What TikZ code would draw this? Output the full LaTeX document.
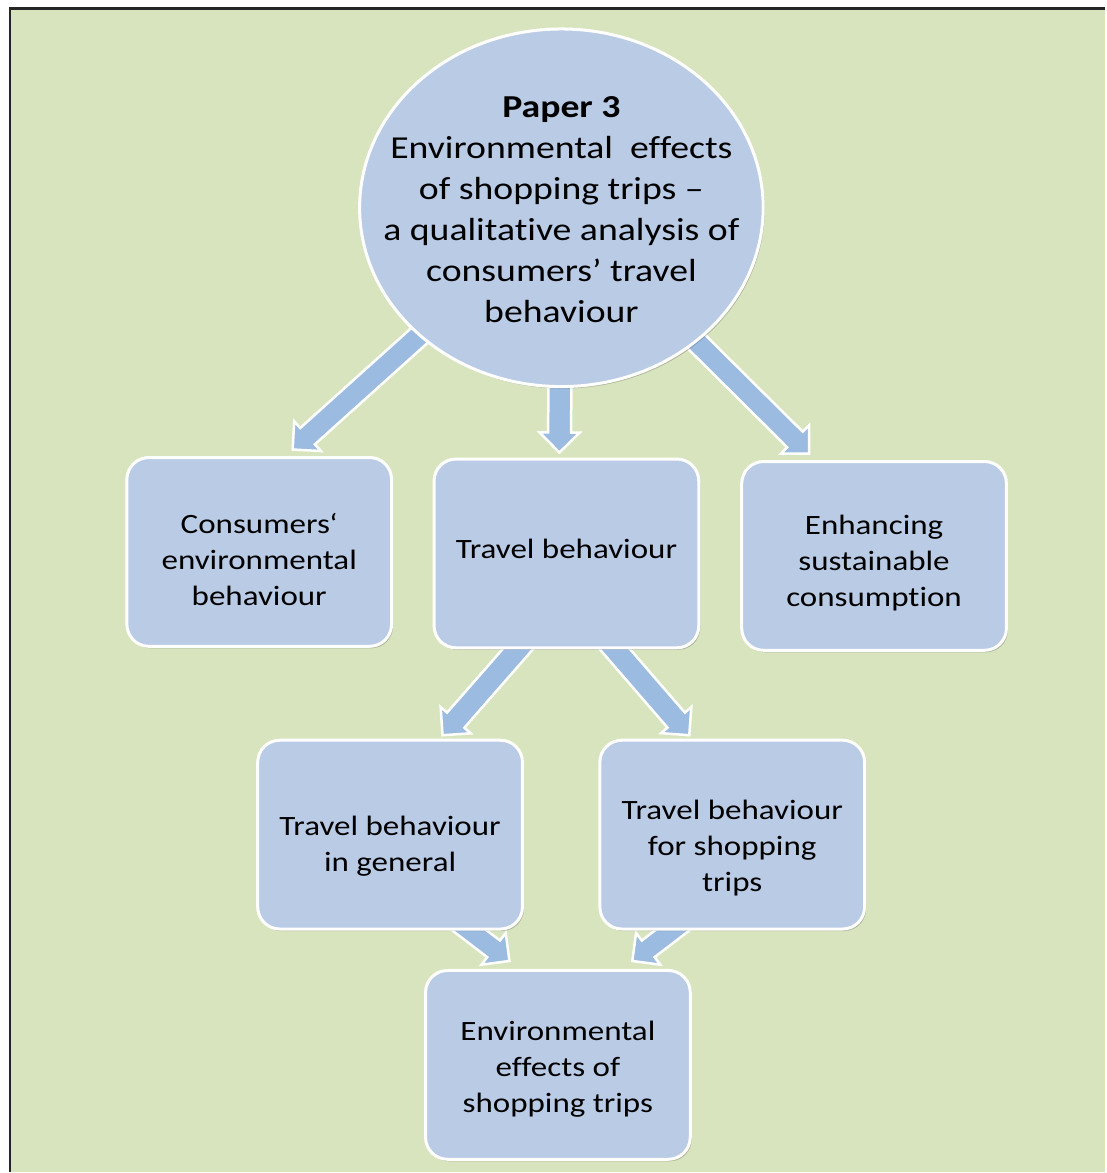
\documentclass[tikz,border=0pt]{standalone}
\usepackage{fontspec}
\setmainfont{Carlito}[FakeStretch=1.18, Ligatures=CommonOff]
\usetikzlibrary{shapes.geometric,calc,shadows}
\definecolor{bggreen}{HTML}{D7E4BD}
\definecolor{boxblue}{HTML}{B9CBE5}
\definecolor{arrowblue}{HTML}{9BBBE0}
\pgfdeclarelayer{back}
\pgfdeclarelayer{arr}
\pgfsetlayers{back,arr,main}
\tikzset{
  arrowstyle/.style={fill=arrowblue, draw=white, line width=2.5pt, line join=miter},
  softshadow/.style={drop shadow={shadow xshift=1.5pt, shadow yshift=-2pt, opacity=0.3, fill=black!70}},
  box/.style={rounded corners=22pt, fill=boxblue, draw=white, line width=3pt,
    minimum width=265pt, minimum height=189pt, align=center, inner sep=4pt,
    font=\fontsize{28}{36}\selectfont, softshadow},
  bigcirc/.style={ellipse, fill=boxblue, draw=white, line width=3pt,
    minimum width=404pt, minimum height=358pt, align=center, inner xsep=-40pt, inner ysep=0pt,
    font=\fontsize{32}{41}\selectfont, softshadow}
}
% push text down by #1 (taller first line) / up by #1 (deeper last line)
\newcommand\dn[1]{\rule{0pt}{\dimexpr\fontcharht\font`h+#1*2\relax}}
\newcommand\up[1]{\rule[-\dimexpr#1*2\relax]{0pt}{0pt}}
\newcommand\blockarrow[4]{%
  \coordinate (hb) at ($(#2)!#4!(#1)$);
  \filldraw[arrowstyle] ($(#1)!#3!90:(#2)$) -- ($(hb)!#3!90:(#2)$) -- ($(hb)!#4!90:(#2)$)
    -- (#2) -- ($(hb)!#4!-90:(#2)$) -- ($(hb)!#3!-90:(#2)$) -- ($(#1)!#3!-90:(#2)$) -- cycle;}
\begin{document}
\begin{tikzpicture}[x=1pt,y=-1pt]
\begin{pgfonlayer}{back}
  \fill[white] (0,0) rectangle (1106,1173);
  \fill[bggreen] (10,8.5) rectangle (1106,1173);
  \draw[line width=2.5pt, black!85] (10,1173) -- (10,8.5) -- (1106,8.5);
\end{pgfonlayer}
\useasboundingbox (0,0) rectangle (1106,1173);

\node[bigcirc] (circ) at (562,208) {\dn{1.5pt}\textbf{Paper 3}\\Environmental\ \ effects\\of shopping trips –\\a qualitative analysis of\\consumers’ travel\\behaviour};
\node[box] (b1) at (259.5,552.5) {\dn{8pt}Consumers‘\\environmental\\behaviour};
\node[box] (b2) at (567,554) {Travel behaviour\up{5pt}};
\node[box] (b3) at (875,556.5) {\dn{7pt}Enhancing\\sustainable\\consumption};
\node[box] (b4) at (390.5,835.5) {\dn{12pt}Travel behaviour\\in general};
\node[box] (b5) at (733,835.5) {\dn{13pt}Travel behaviour\\for shopping\\trips};
\node[box] (b6) at (558.5,1066) {\dn{4pt}Environmental\\effects of\\shopping trips};

\coordinate (t1) at (293,450);
\coordinate (t2) at (560,453);
\coordinate (t3) at (810,454);
\coordinate (s4) at (527,640);
\coordinate (t4) at (443,736);
\coordinate (s5) at (607,640);
\coordinate (t5) at (690,736);
\coordinate (s6) at (446,913);
\coordinate (t6) at (510,962);
\coordinate (s7) at (697,913);
\coordinate (t7) at (633,962);

\begin{pgfonlayer}{arr}
  \blockarrow{circ.center}{t1}{11pt}{20pt}
  \blockarrow{circ.center}{t2}{11.5pt}{20pt}
  \blockarrow{circ.center}{t3}{11pt}{20pt}
  \blockarrow{s4}{t4}{11.5pt}{20pt}
  \blockarrow{s5}{t5}{11.5pt}{20pt}
  \blockarrow{s6}{t6}{10.5pt}{20pt}
  \blockarrow{s7}{t7}{10.5pt}{20pt}
\end{pgfonlayer}
\end{tikzpicture}
\end{document}
